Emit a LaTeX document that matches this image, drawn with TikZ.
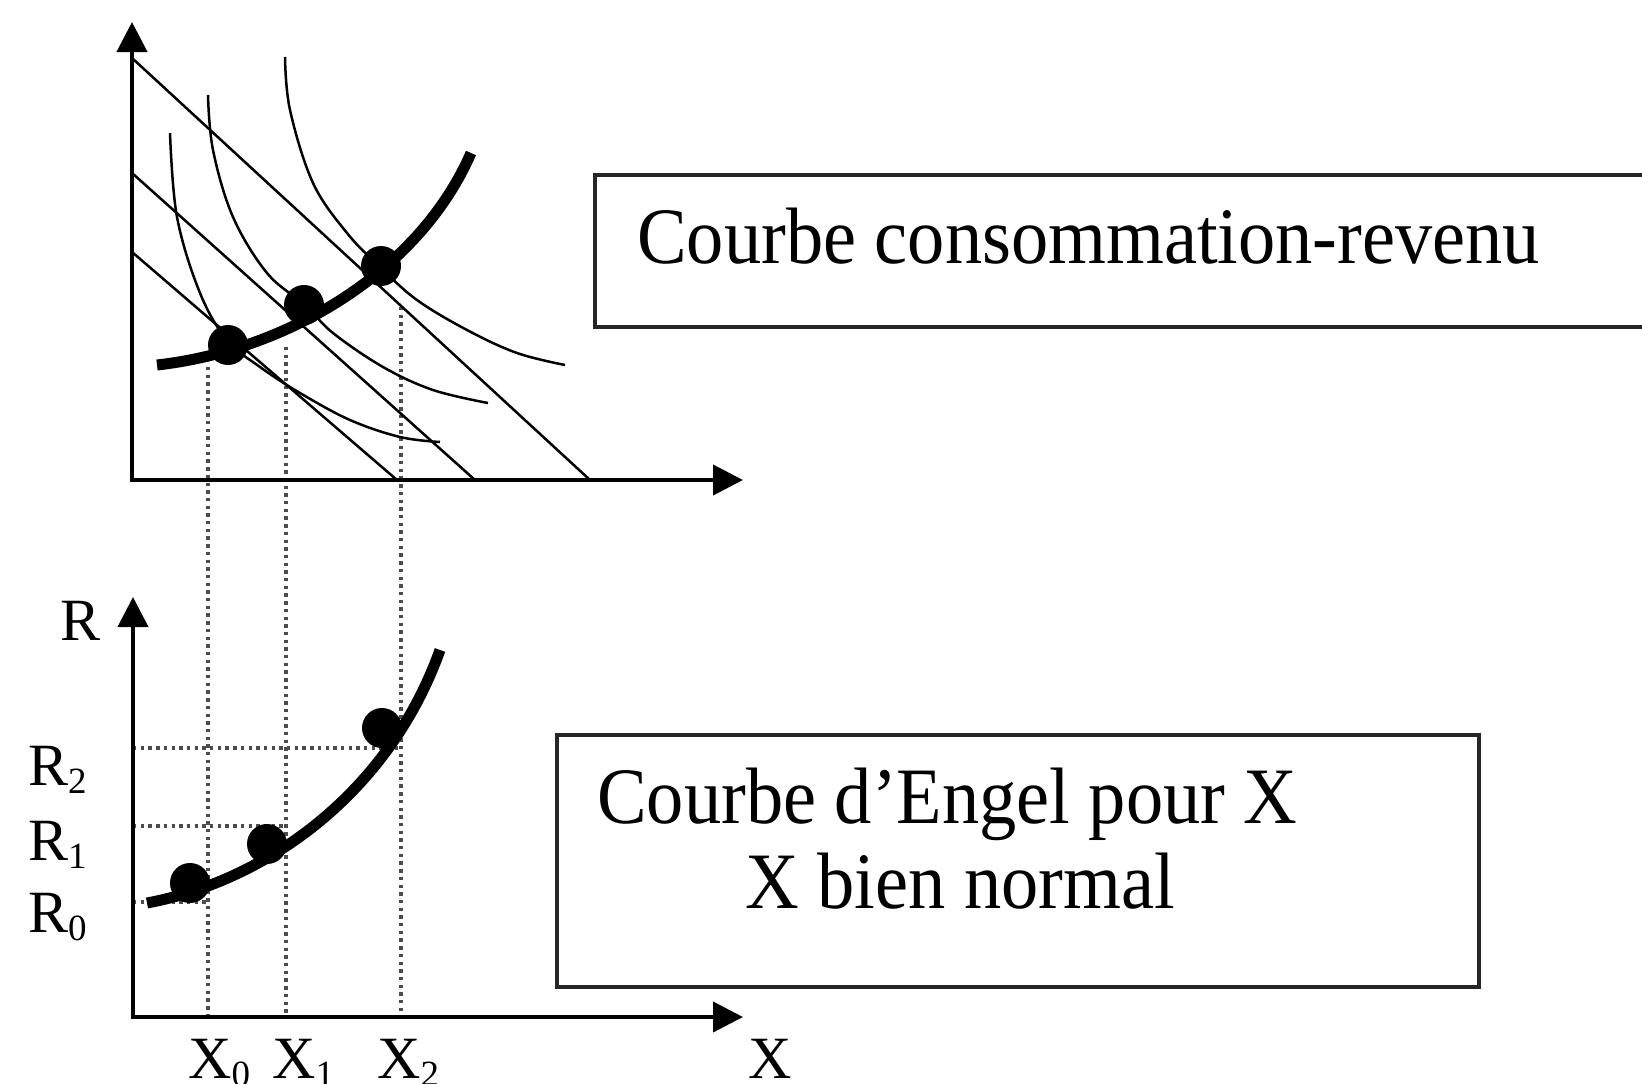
\documentclass[tikz,border=0pt]{standalone}
\usepackage{fontspec}
\setmainfont{Liberation Serif}
\newfontfamily\boxfont[FakeStretch=0.93]{Liberation Serif}
\usetikzlibrary{arrows.meta}
\newcommand{\sbs}[1]{\raisebox{-8pt}{\fontsize{37}{37}\selectfont #1}}
\begin{document}
\begin{tikzpicture}[x=1pt,y=-1pt,
  axis/.style={line width=4pt,-{Triangle[length=30pt,width=30pt]}},
  fine/.style={line width=2.5pt},
  heavy/.style={line width=11pt},
  guide/.style={line width=3.2pt,dash pattern=on 3.4pt off 4.3pt,black!70},
  dot/.style={circle,fill=black,minimum size=40pt,inner sep=0pt},
  lbl/.style={anchor=base west,inner sep=0pt,font=\fontsize{60}{60}\selectfont},
  boxtxt/.style={anchor=base west,inner sep=0pt,font=\boxfont\fontsize{80}{85}\selectfont},
  frame/.style={draw=black!85,line width=4pt,inner sep=0pt,anchor=north west}
]
\useasboundingbox (0,0) rectangle (1642,1084);

% ---------- boxes ----------
\node[frame,minimum width=1120pt,minimum height=152pt] (box1) at (593,173) {};
\node[boxtxt] (t1) at (637,263) {Courbe consommation-revenu};
\node[frame,minimum width=922pt,minimum height=252pt] (box2) at (555,733) {};
\node[boxtxt] (t2) at (597,823) {Courbe d’Engel pour X};
\node[boxtxt] (t3) at (745,908) {X bien normal};

% ---------- coordinates ----------
\coordinate (O1) at (132,480);
\coordinate (Y1) at (132,22);
\coordinate (X1e) at (743,480);
\coordinate (O2) at (133,1017);
\coordinate (Y2) at (133,597);
\coordinate (X2e) at (743,1017);

\coordinate (v0t) at (208,367); \coordinate (v0b) at (208,1017);
\coordinate (v1t) at (286,347); \coordinate (v1b) at (286,1017);
\coordinate (v2t) at (401,307); \coordinate (v2b) at (401,1017);

\coordinate (h0a) at (133,902); \coordinate (h0b) at (208,902);
\coordinate (h1a) at (133,826); \coordinate (h1b) at (286,826);
\coordinate (h2a) at (133,748); \coordinate (h2b) at (399,748);

\coordinate (b1a) at (132,58);  \coordinate (b1b) at (590,480);
\coordinate (b2a) at (132,173); \coordinate (b2b) at (475,480);
\coordinate (b3a) at (132,252); \coordinate (b3b) at (397,480);

\coordinate (c1s) at (157,365); \coordinate (c1e) at (471,153);
\coordinate (c2s) at (147,903); \coordinate (c2e) at (440,650);

% ---------- dotted guides ----------
\draw[guide] (v0t) -- (v0b);
\draw[guide] (v1t) -- (v1b);
\draw[guide] (v2t) -- (v2b);
\draw[guide] (h0a) -- (h0b);
\draw[guide] (h1a) -- (h1b);
\draw[guide] (h2a) -- (h2b);

% ---------- budget lines ----------
\draw[fine] (b1a) -- (b1b);
\draw[fine] (b2a) -- (b2b);
\draw[fine] (b3a) -- (b3b);

% ---------- indifference curves ----------
\draw[fine] plot[smooth,tension=0.6] coordinates {(170,133) (177,217) (200,293) (227,340) (260,367) (300,393) (350,420) (400,437) (440,442)};
\draw[fine] plot[smooth,tension=0.6] coordinates {(208,95) (213,150) (233,217) (267,273) (305,305) (333,333) (383,367) (433,390) (488,403)};
\draw[fine] plot[smooth,tension=0.6] coordinates {(285,57) (290,110) (313,183) (347,233) (380,267) (417,300) (467,330) (517,353) (565,365)};

% ---------- income-consumption curve ----------
\draw[heavy] (c1s) .. controls (290,350) and (420,270) .. (c1e);
\node[dot] (p0) at (228,345) {};
\node[dot] (p1) at (304,305) {};
\node[dot] (p2) at (381,266) {};

% ---------- Engel curve ----------
\draw[heavy] (c2s) .. controls (270,880) and (390,790) .. (c2e);
\node[dot] (e0) at (190,883) {};
\node[dot] (e1) at (267,844) {};
\node[dot] (e2) at (382,728) {};

% ---------- axes ----------
\draw[axis] (O1) -- (Y1);
\draw[axis] ([xshift=-2pt]O1) -- (X1e);
\draw[axis] (O2) -- (Y2);
\draw[axis] ([xshift=-2pt]O2) -- (X2e);

% ---------- labels ----------
\node[lbl] (lR) at (60,640) {R};
\node[lbl] (lR2) at (28,785) {R\sbs{2}};
\node[lbl] (lR1) at (28,860) {R\sbs{1}};
\node[lbl] (lR0) at (28,932) {R\sbs{0}};
\node[lbl] (lX0) at (188,1078) {X\sbs{0}};
\node[lbl] (lX1) at (272,1078) {X\sbs{1}};
\node[lbl] (lX2) at (377,1078) {X\sbs{2}};
\node[lbl] (lX) at (748,1078) {X};
\end{tikzpicture}
\end{document}
